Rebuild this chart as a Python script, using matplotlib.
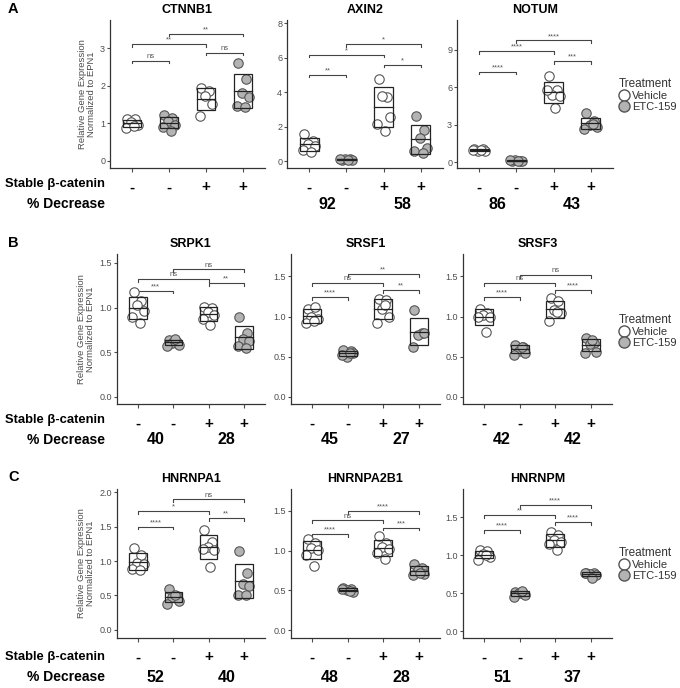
import numpy as np
import matplotlib.pyplot as plt
from matplotlib.lines import Line2D
from matplotlib.ticker import FormatStrFormatter

plt.rcParams['font.family'] = ['Liberation Sans', 'DejaVu Sans']

# groups: (stable -, Vehicle), (stable -, ETC-159), (stable +, Vehicle), (stable +, ETC-159)
stable = ["-", "-", "+", "+"]
treatment = ["Vehicle", "ETC-159", "Vehicle", "ETC-159"]
genes = ["CTNNB1", "AXIN2", "NOTUM", "SRPK1", "SRSF1", "SRSF3",
         "HNRNPA1", "HNRNPA2B1", "HNRNPM"]

ctnnb1 = [[1.10, 1.12, 1.02, 0.95, 0.88, 0.93],
          [1.22, 1.13, 1.07, 0.96, 0.91, 0.80],
          [1.93, 1.86, 1.72, 1.52, 1.18],
          [2.61, 2.19, 1.80, 1.71, 1.46, 1.43]]
axin2 = [[1.60, 1.15, 1.00, 0.90, 0.62, 0.55],
         [0.08, 0.10, 0.12, 0.06, 0.14, 0.09],
         [4.79, 3.75, 3.81, 2.59, 2.14, 1.77],
         [2.63, 1.81, 1.32, 0.74, 0.60, 0.45]]
notum = [[1.10, 1.05, 0.95, 0.92, 1.00, 0.98],
         [0.15, 0.12, 0.18, 0.14, 0.16, 0.13],
         [6.91, 5.83, 5.43, 5.32, 5.78, 4.38],
         [3.95, 3.31, 2.96, 2.82, 2.69, 3.04]]
srpk1 = [[1.17, 1.07, 1.03, 0.96, 0.89, 0.83],
         [0.64, 0.62, 0.60, 0.58, 0.57, 0.65],
         [1.01, 1.00, 0.95, 0.92, 0.87, 0.80],
         [0.90, 0.72, 0.65, 0.63, 0.565, 0.55]]
srsf1 = [[1.10, 1.12, 1.00, 0.97, 0.92, 0.94],
         [0.58, 0.57, 0.50, 0.55, 0.52, 0.54],
         [1.22, 1.21, 1.09, 0.99, 0.92, 1.15],
         [1.08, 0.79, 0.77, 0.80, 0.62]]
srsf3 = [[1.10, 1.04, 1.02, 0.99, 1.00, 0.81],
         [0.65, 0.62, 0.575, 0.55, 0.52, 0.625],
         [1.23, 1.19, 1.08, 1.05, 0.94, 1.06],
         [0.73, 0.675, 0.66, 0.56, 0.55, 0.71]]
hnrnpa1 = [[1.19, 1.09, 0.97, 0.96, 0.88, 0.87],
           [0.59, 0.49, 0.48, 0.42, 0.37, 0.50],
           [1.46, 1.28, 1.21, 1.16, 1.18, 0.92],
           [1.15, 0.82, 0.66, 0.64, 0.51, 0.50]]
hnrnpa2b1 = [[1.14, 1.09, 1.03, 1.01, 0.95, 0.81],
             [0.53, 0.52, 0.50, 0.48, 0.52, 0.49],
             [1.18, 1.10, 1.04, 1.02, 0.97, 0.90],
             [0.83, 0.78, 0.76, 0.71, 0.69, 0.72]]
hnrnpm = [[1.07, 1.05, 1.01, 0.98, 0.94, 1.00],
          [0.52, 0.50, 0.50, 0.48, 0.45, 0.53],
          [1.31, 1.27, 1.20, 1.17, 1.15, 1.07],
          [0.77, 0.76, 0.75, 0.74, 0.76, 0.70]]
values = [ctnnb1, axin2, notum, srpk1, srsf1, srsf3, hnrnpa1, hnrnpa2b1, hnrnpm]

# comparisons: (1,2), (1,3), (3,4), (2,4)
pairs = [(1, 2), (1, 3), (3, 4), (2, 4)]
sig = [["ns", "**", "ns", "**"],
       ["**", "*", "*", "*"],
       ["****", "****", "***", "****"],
       ["***", "ns", "**", "ns"],
       ["****", "ns", "**", "**"],
       ["****", "ns", "****", "ns"],
       ["****", "*", "**", "ns"],
       ["****", "ns", "***", "****"],
       ["****", "**", "****", "****"]]
pct_decrease = [None, [92, 58], [86, 43], [40, 28], [45, 27], [42, 42],
                [52, 40], [48, 28], [51, 37]]

# layout (pixels) and bracket heights (data units)
W, H = 680, 688
cols = [[(110, 265), (287, 443), (457, 613)],
        [(117, 265), (291, 440), (463, 612)],
        [(117, 265), (291, 440), (463, 612)]]
rows = [(20, 168), (254, 404), (489, 638)]
ylims = [(-0.2, 3.76), (-0.4, 8.2), (-0.45, 11.4),
         (-0.08, 1.6), (-0.09, 1.78), (-0.09, 1.78),
         (-0.12, 2.05), (-0.1, 1.775), (-0.09, 1.87)]
yticks = [[0, 1, 2, 3], [0, 2, 4, 6, 8], [0, 3, 6, 9],
          [0, 0.5, 1.0, 1.5], [0, 0.5, 1.0, 1.5], [0, 0.5, 1.0, 1.5],
          [0, 0.5, 1.0, 1.5, 2.0], [0, 0.5, 1.0, 1.5], [0, 0.5, 1.0, 1.5]]
brackets = [[2.67, 3.12, 2.89, 3.39],
            [5.02, 6.19, 5.60, 6.81],
            [7.26, 8.92, 8.12, 9.76],
            [1.19, 1.32, 1.27, 1.43],
            [1.24, 1.42, 1.33, 1.53],
            [1.24, 1.42, 1.33, 1.52],
            [1.50, 1.73, 1.63, 1.90],
            [1.21, 1.38, 1.29, 1.50],
            [1.33, 1.53, 1.43, 1.66]]
row_label_y = [(184, 204), (420, 440), (657, 677)]
jitter = [-0.13, 0.09, -0.03, 0.16, -0.17, 0.05]

fill = {"Vehicle": "white", "ETC-159": "#b3b3b3"}
axis_col = "#333333"
tick_col = "#4d4d4d"

fig = plt.figure(figsize=(W / 100, H / 100), dpi=100)

for k, gene in enumerate(genes):
    r, c = divmod(k, 3)
    x0, x1 = cols[r][c]
    top, bot = rows[r]
    ax = fig.add_axes([x0 / W, 1 - bot / H, (x1 - x0) / W, (bot - top) / H])
    data = values[k]
    for g, pts in enumerate(data):
        pos = g + 1
        pts = np.array(pts)
        xs = pos + np.array(jitter[:len(pts)])
        ax.scatter(xs, pts, s=46, facecolor=fill[treatment[g]],
                   edgecolor="#555555", linewidth=0.8, zorder=3)
        m, sd = pts.mean(), pts.std(ddof=1)
        ax.add_patch(plt.Rectangle((pos - 0.25, m - sd), 0.5, 2 * sd,
                                   fill=False, edgecolor="#222222", lw=0.9, zorder=4))
        ax.plot([pos - 0.25, pos + 0.25], [m, m], color="#222222", lw=0.9, zorder=4)

    lo, hi = ylims[k]
    d = 0.018 * (hi - lo)
    for (i, j), h, lab in zip(pairs, brackets[k], sig[k]):
        ax.plot([i, i, j, j], [h - d, h, h, h - d], color="#444444", lw=0.8)
        ax.text((i + j) / 2, h + 0.004 * (hi - lo), lab, ha="center", va="bottom",
                fontsize=5.5, color="#555555")

    ax.set_xlim(0.4, 4.6)
    ax.set_ylim(lo, hi)
    ax.set_yticks(yticks[k])
    ax.yaxis.set_major_formatter(FormatStrFormatter("%d" if r == 0 else "%.1f"))
    ax.set_xticks([1, 2, 3, 4])
    ax.set_xticklabels(stable, fontsize=11, fontweight="bold")
    ax.tick_params(axis="x", length=3, pad=6, color=tick_col)
    ax.tick_params(axis="y", length=2, pad=1.5, labelsize=6.5,
                   labelcolor=tick_col, color=tick_col)
    for s in ["top", "right"]:
        ax.spines[s].set_visible(False)
    for s in ["left", "bottom"]:
        ax.spines[s].set_color(axis_col)
        ax.spines[s].set_linewidth(0.9)
    ax.set_title(gene, fontsize=9, fontweight="bold", pad=5)

    if c == 0:
        ax.set_ylabel("Relative Gene Expression\nNormalized to EPN1",
                      fontsize=6.8, color=tick_col, labelpad=3, linespacing=1.0)

    if pct_decrease[k] is not None:
        yb = row_label_y[r][1]
        for xpos, p in zip([1.5, 3.5], pct_decrease[k]):
            xp = x0 + (xpos - 0.4) / 4.2 * (x1 - x0)
            fig.text(xp / W, 1 - yb / H, str(p), ha="center", va="center",
                     fontsize=11.5, fontweight="bold")

for r, (ys, yd) in enumerate(row_label_y):
    fig.text(105 / W, 1 - ys / H, "Stable β-catenin", ha="right", va="center",
             fontsize=9.4, fontweight="bold")
    fig.text(105 / W, 1 - yd / H, "% Decrease", ha="right", va="center",
             fontsize=10, fontweight="bold")

for lab, y in zip(["A", "B", "C"], [9, 243, 477]):
    fig.text(8 / W, 1 - y / H, lab, ha="left", va="center",
             fontsize=10.5, fontweight="bold")

handles = [Line2D([], [], marker="o", linestyle="", markersize=8,
                  markerfacecolor=fill[t], markeredgecolor="#555555")
           for t in ["Vehicle", "ETC-159"]]
for ytop in [72, 308, 541]:
    leg = fig.legend(handles, ["Vehicle", "ETC-159"], title="Treatment",
                     loc="upper left", bbox_to_anchor=(613 / W, 1 - ytop / H),
                     frameon=False, fontsize=8, title_fontsize=8.5,
                     handletextpad=0.25, labelspacing=0.1, borderpad=0,
                     handlelength=1.0)
    leg._legend_box.align = "left"
    for t in leg.get_texts():
        t.set_color("#333333")
    leg.get_title().set_color("#333333")

fig.savefig("out.png", dpi=100)
